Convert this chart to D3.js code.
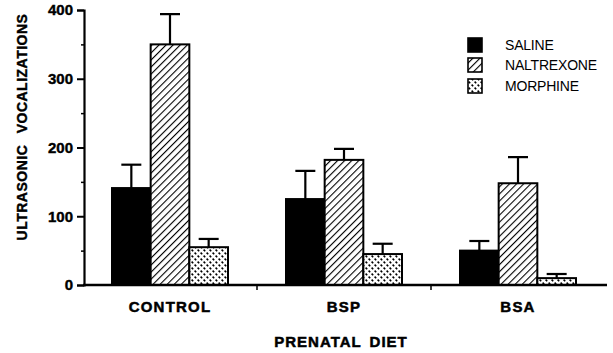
<!DOCTYPE html>
<html><head><meta charset="utf-8">
<script src="https://cdn.jsdelivr.net/npm/d3@7"></script>
<style>body{margin:0;background:#fff}svg{display:block}text{font-family:"Liberation Sans",Arial,sans-serif;fill:#000}</style>
</head><body>
<script>
const categories = ["CONTROL", "BSP", "BSA"];
const seriesNames = ["SALINE", "NALTREXONE", "MORPHINE"];
const saline = [141, 125, 50];
const salineErr = [34, 41, 14];
const naltrexone = [350, 182, 148];
const naltrexoneErr = [44, 16, 38];
const morphine = [55, 45, 10];
const morphineErr = [12, 15, 6];
const yTicks = [0, 100, 200, 300, 400];
const yMinor = [50, 150, 250, 350];

const values = [saline, naltrexone, morphine];
const errs = [salineErr, naltrexoneErr, morphineErr];
const fills = ["#000", "url(#hatch)", "url(#stipple)"];

const W = 613, H = 353;
const svg = d3.select("body").append("svg").attr("width", W).attr("height", H);
const defs = svg.append("defs");
const hp = defs.append("pattern").attr("id", "hatch").attr("patternUnits", "userSpaceOnUse")
  .attr("width", 5).attr("height", 5).attr("patternTransform", "rotate(45)");
hp.append("rect").attr("width", 5).attr("height", 5).attr("fill", "#fff");
hp.append("line").attr("x1", 0).attr("y1", 0).attr("x2", 0).attr("y2", 5).attr("stroke", "#000").attr("stroke-width", 2.2);
const sp = defs.append("pattern").attr("id", "stipple").attr("patternUnits", "userSpaceOnUse")
  .attr("width", 6).attr("height", 6);
sp.append("rect").attr("width", 6).attr("height", 6).attr("fill", "#fff");
sp.append("path").attr("d", "M0.6,3.6 L2.2,5.2 M3.6,0.6 L5.2,2.2").attr("stroke", "#000").attr("stroke-width", 1.6);

const y = d3.scaleLinear().domain([0, 400]).range([285, 10]);
const x0 = d3.scaleBand().domain(categories).range([83, 605]).padding(0);
const bw = x0.bandwidth();
const x1 = d3.scaleBand().domain(seriesNames).range([bw / 6, bw * 5 / 6]).padding(0);

// bars
categories.forEach((c, ci) => {
  const g = svg.append("g").attr("transform", `translate(${x0(c)},0)`);
  seriesNames.forEach((s, si) => {
    const v = values[si][ci], e = errs[si][ci];
    const bx = x1(s), w = x1.bandwidth();
    const cx = bx + w / 2;
    g.append("line").attr("x1", cx).attr("x2", cx).attr("y1", y(v)).attr("y2", y(v + e))
      .attr("stroke", "#000").attr("stroke-width", 2.2);
    g.append("line").attr("x1", cx - 10).attr("x2", cx + 10).attr("y1", y(v + e)).attr("y2", y(v + e))
      .attr("stroke", "#000").attr("stroke-width", 2.2);
    g.append("rect").attr("x", bx).attr("width", w).attr("y", y(v)).attr("height", y(0) - y(v))
      .attr("fill", fills[si]).attr("stroke", "#000").attr("stroke-width", 2);
  });
});

// y axis
const ya = svg.append("g").attr("transform", "translate(84,0)")
  .call(d3.axisLeft(y).tickValues(yTicks).tickSize(7).tickPadding(4).tickFormat(d3.format("d")));
ya.select(".domain").attr("stroke-width", 2.2);
ya.selectAll(".tick line").attr("stroke-width", 2);
ya.selectAll(".tick text").attr("font-size", 15).attr("font-weight", "bold").attr("stroke", "#000").attr("stroke-width", 0.4);
const ym = svg.append("g").attr("transform", "translate(84,0)")
  .call(d3.axisLeft(y).tickValues(yMinor).tickSize(3).tickFormat(""));
ym.select(".domain").remove();
ym.selectAll(".tick line").attr("stroke-width", 1.5);

// x axis
const xa = svg.append("g").attr("transform", "translate(0,285)")
  .call(d3.axisBottom(x0).tickSize(0).tickPadding(16));
xa.select(".domain").attr("d", "M83,0H607").attr("stroke-width", 2.4);
xa.selectAll(".tick text").attr("font-size", 15).attr("font-weight", "bold").attr("letter-spacing", 1.2)
  .attr("stroke", "#000").attr("stroke-width", 0.5);
svg.append("g").selectAll("line").data(categories.slice(1)).join("line")
  .attr("x1", d => x0(d)).attr("x2", d => x0(d)).attr("y1", 285).attr("y2", 290)
  .attr("stroke", "#000").attr("stroke-width", 1.5);

// titles
svg.append("text").attr("x", 341).attr("y", 347).attr("text-anchor", "middle")
  .attr("font-size", 15).attr("font-weight", "bold").attr("letter-spacing", 1).attr("word-spacing", 3)
  .attr("stroke", "#000").attr("stroke-width", 0.5)
  .text("PRENATAL DIET");
svg.append("text").attr("transform", "translate(27,127) rotate(-90)").attr("text-anchor", "middle")
  .attr("font-size", 14).attr("font-weight", "bold").attr("letter-spacing", 0.5).attr("word-spacing", 7)
  .attr("stroke", "#000").attr("stroke-width", 0.4)
  .text("ULTRASONIC VOCALIZATIONS");

// legend
const legY = [45, 65, 86];
const lg = svg.append("g");
seriesNames.forEach((s, i) => {
  lg.append("rect").attr("x", 468).attr("y", legY[i] - 7).attr("width", 14).attr("height", 14)
    .attr("fill", fills[i]).attr("stroke", "#000").attr("stroke-width", 1.6);
  lg.append("text").attr("x", 505).attr("y", legY[i] + 5).attr("font-size", 14).attr("letter-spacing", -0.2).text(s);
});
</script>
</body></html>
